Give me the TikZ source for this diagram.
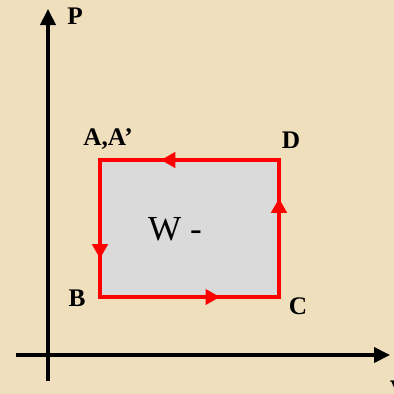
\documentclass[tikz,border=0pt]{standalone}
\usepackage{fontspec}
\setmainfont{Liberation Serif}
\usetikzlibrary{arrows.meta,decorations.markings}

\definecolor{Cparchment}{HTML}{EFDFBC}
\definecolor{Cworkgray}{HTML}{DADADA}
\definecolor{Ccyclered}{HTML}{FF0000}

\tikzset{
  axis/.style={line width=2.3pt,black,-{Triangle[length=0.4cm,width=0.38cm]}},
  ptlabel/.style={font=\bfseries\fontsize{18}{18}\selectfont,inner sep=0pt},
  cycleside/.style={line width=2.9pt,Ccyclered,postaction={decorate},
    decoration={markings,mark=at position #1 with {\arrow{Triangle[length=0.36cm,width=0.38cm]}}}}
}

\begin{document}
\begin{tikzpicture}[x=0.025cm,y=-0.025cm]
		\clip (0,0) rectangle (394,394);
		\fill[Cparchment] (0,0) rectangle (394,394);
		% axes
		\coordinate (pbot) at (48,381);
		\coordinate (ptop) at (48,9);
		\coordinate (vleft) at (16,355);
		\coordinate (vright) at (390,355);
		\draw[axis] (pbot) -- (ptop);
		\draw[axis] (vleft) -- (vright);
		\node[ptlabel] (plabel) at (75,16) {P};
		\node[ptlabel] (vlabel) at (399,389) {V};
		% cycle corners
		\coordinate (A) at (100,160);
		\coordinate (B) at (100,297);
		\coordinate (C) at (279,297);
		\coordinate (D) at (279,160);
		\fill[Cworkgray] (A) rectangle (C);
		\draw[cycleside=0.66] (D) -- (A);
		\draw[cycleside=0.72] (A) -- (B);
		\draw[cycleside=0.67] (B) -- (C);
		\draw[cycleside=0.72] (C) -- (D);
		\draw[line width=2.9pt,Ccyclered,line join=miter] (D) -- (A) -- (B) -- (C) -- cycle;
		\node[ptlabel] (alabel) at (108,139) {A,A’};
		\node[ptlabel] (blabel) at (77,298) {B};
		\node[ptlabel] (clabel) at (298,306) {C};
		\node[ptlabel] (dlabel) at (291,140) {D};
		\node[font=\fontsize{25}{25}\selectfont,inner sep=0pt] (work) at (175,229) {W -};
	\end{tikzpicture}
\end{document}
